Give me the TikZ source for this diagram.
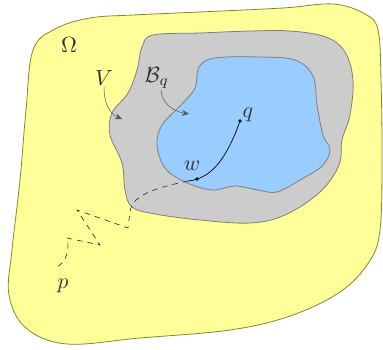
\documentclass[tikz,border=0pt]{standalone}
\usetikzlibrary{arrows.meta}
\definecolor{omegafill}{HTML}{FFFF99}
\definecolor{omegaline}{HTML}{86862A}
\definecolor{vfill}{HTML}{CCCCCC}
\definecolor{vline}{HTML}{7F7F7F}
\definecolor{bfill}{HTML}{99CCFF}
\definecolor{labelc}{HTML}{333333}
\definecolor{arrowc}{HTML}{555555}
\begin{document}
\begin{tikzpicture}[x=1pt,y=-1pt,
  lbl/.style={text=labelc,scale=2.2,inner sep=0pt},
  region/.style={line width=0.8pt,line join=round},
  callout/.style={draw=arrowc,line width=0.5pt,-{Stealth[length=7pt,width=6pt]}},
  solidpath/.style={draw=black,line width=0.7pt},
  dashpath/.style={draw=black!85,line width=0.6pt,dash pattern=on 5.5pt off 5pt},
  dotmark/.style={fill=black}]
\useasboundingbox (0,0) rectangle (383,350);
% Omega
\draw[region,draw=omegaline,fill=omegafill] plot[smooth cycle,tension=0.6] coordinates {
 (33,50) (55,29) (90,18) (133,15) (200,12) (283,8) (333,4) (365,14) (378,30)
 (381,80) (382,160) (380,230) (369,262) (340,292) (290,316) (230,330) (140,338)
 (67,344) (26,328) (9,295) (12,250) (20,180) (26,110)};
% V
\draw[region,draw=vline,fill=vfill] plot[smooth cycle,tension=0.6] coordinates {
 (153,35) (200,33) (250,31) (290,31) (326,37) (345,52) (353,80) (350,115)
 (342,140) (339,165) (320,192) (285,215) (250,223) (200,220) (155,214) (132,207)
 (125,190) (122,163) (110,135) (112,113) (128,93) (137,70) (142,47)};
% B_q
\draw[region,draw=vline,fill=bfill] plot[smooth cycle,tension=0.6] coordinates {
 (199,67) (215,58) (260,57) (295,60) (313,76) (317,105) (323,135) (330,150)
 (322,166) (300,180) (277,192) (258,190) (235,186) (212,190) (185,182) (165,168)
 (157,145) (162,125) (180,106) (195,88)};
% labels
\node[lbl] (omega) at (69,45) {$\Omega$};
\node[lbl] (vlab) at (104,78) {$V$};
\node[lbl] (blab) at (157,78) {$\mathcal{B}_q$};
\node[lbl] (qlab) at (248,115) {$q$};
\node[lbl] (wlab) at (192,166) {$w$};
\node[lbl] (plab) at (63,286) {$p$};
% points
\coordinate (qdot) at (240,121);
\coordinate (wdot) at (197,179);
\coordinate (e1) at (188,181);
\coordinate (z0) at (128,228);
\coordinate (z1) at (77,210);
\coordinate (z2) at (100,245);
\coordinate (z3) at (67,238);
\coordinate (pend) at (57,267);
\coordinate (vtip) at (122,119);
\coordinate (btip) at (189,114);
% callout arrows
\draw[callout] ([yshift=-1pt]vlab.south) .. controls (104,104) and (110,114) .. (vtip);
\draw[callout] ([xshift=4pt,yshift=-1pt]blab.south) .. controls (162,103) and (172,111) .. (btip);
% path
\draw[solidpath] (qdot) .. controls (229,152) and (216,173) .. (wdot) .. controls (194,180) and (191,181) .. (e1);
\draw[dashpath] (e1) .. controls (155,188) and (132,195) .. (130,212) -- (z0) -- (z1) -- (z2) -- (z3) .. controls (70,250) and (66,262) .. (pend);
\fill[dotmark] (qdot) circle (1.8pt);
\fill[dotmark] (wdot) circle (1.8pt);
\end{tikzpicture}
\end{document}
